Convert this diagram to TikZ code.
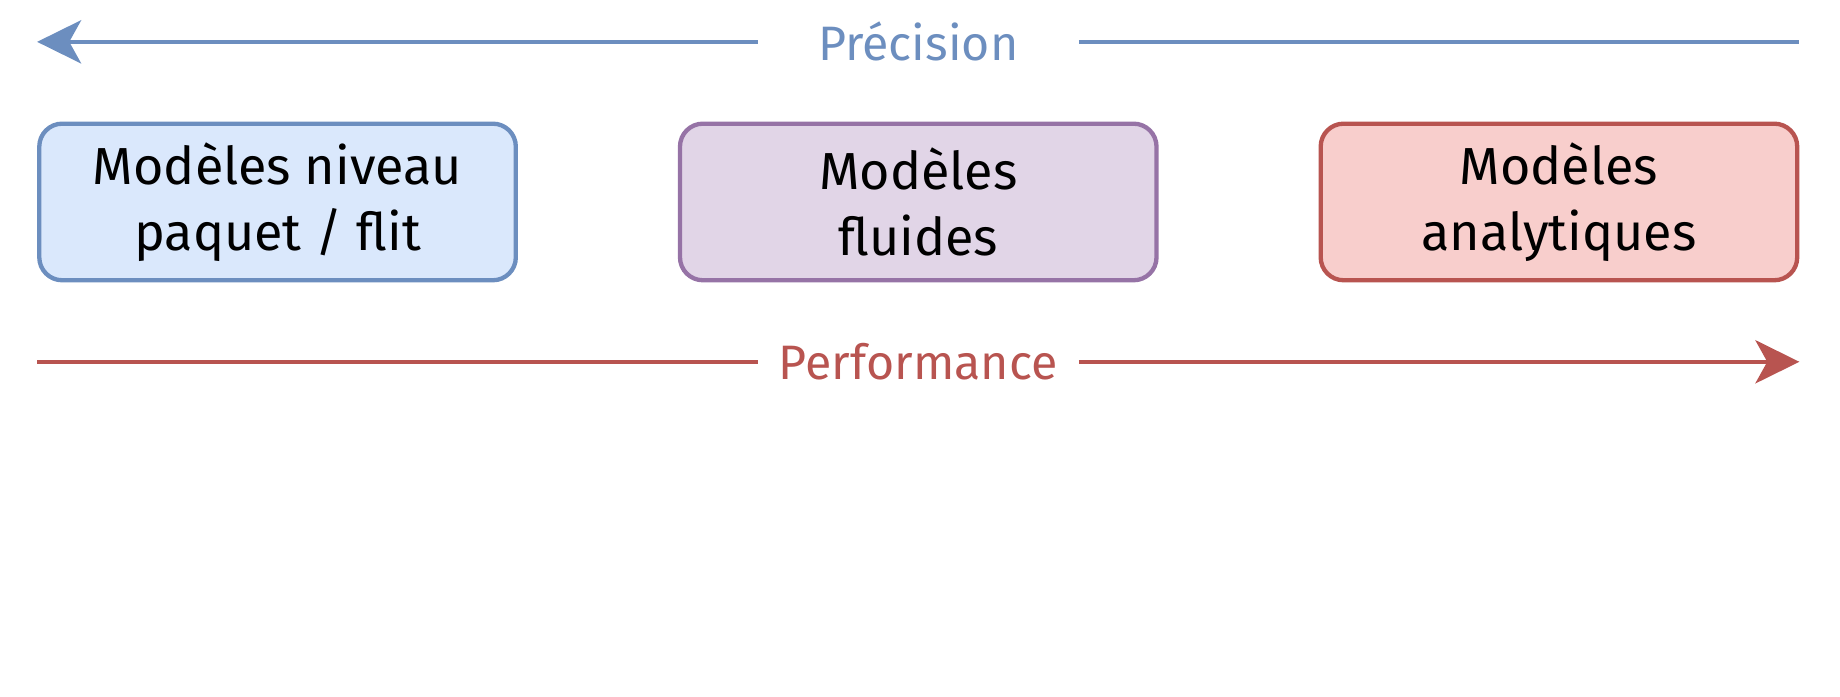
\documentclass[tikz,border=0pt]{standalone}
\usepackage{fontspec}
\setmainfont{Fira Sans}
\usetikzlibrary{positioning, arrows.meta}
\definecolor{precblue}{HTML}{6C8EBF}
\definecolor{precfill}{HTML}{DAE8FC}
\definecolor{fluidline}{HTML}{9673A6}
\definecolor{fluidfill}{HTML}{E1D5E7}
\definecolor{perfred}{HTML}{B85450}
\definecolor{perffill}{HTML}{F8CECC}
\tikzset{
	node distance=59.2pt, % gap between two model boxes
	model/.style={draw, rounded corners=8.5pt, line width=1.6pt, minimum width=176.5pt, minimum height=58pt, align=center, font=\fontsize{19.3}{24.3}\selectfont}, % sets the look of each model box
	axis/.style={line width=1.5pt}, % the two axes
	axislabel/.style={minimum width=118.5pt, inner sep=0pt, font=\fontsize{17.9}{22}\selectfont}, % text that cuts an axis
	>={Stealth[length=16.3pt, width=16pt, inset=4.4pt]}, % arrow heads of the axes
}

\begin{document}
\begin{tikzpicture}
		\useasboundingbox (0,0) rectangle (681.5pt,-257.8pt);

		\node[model, draw=precblue, fill=precfill] (packet) at (102.8pt,-74.8pt) {Modèles niveau\\paquet / flit};
		\node[model, draw=fluidline, fill=fluidfill, right=of packet] (fluid) {Modèles\\fluides};
		\node[model, draw=perfred, fill=perffill, right=of fluid] (analytic) {Modèles\\analytiques};

		\coordinate (precL) at (packet.west |- 0,-15.5pt);
		\coordinate (precR) at (analytic.east |- 0,-15.5pt);
		\coordinate (perfL) at (packet.west |- 0,-134pt);
		\coordinate (perfR) at (analytic.east |- 0,-134pt);

		\node[axislabel, text=precblue] (precision) at (fluid.center |- precL) {Précision};
		\node[axislabel, text=perfred] (performance) at (fluid.center |- perfL) {Performance};

		\draw[axis, precblue]	(precision) edge[->] (precL)
				(precision) edge (precR);
		\draw[axis, perfred]	(perfL) edge (performance)
				(performance) edge[->] (perfR);
	\end{tikzpicture}
\end{document}
